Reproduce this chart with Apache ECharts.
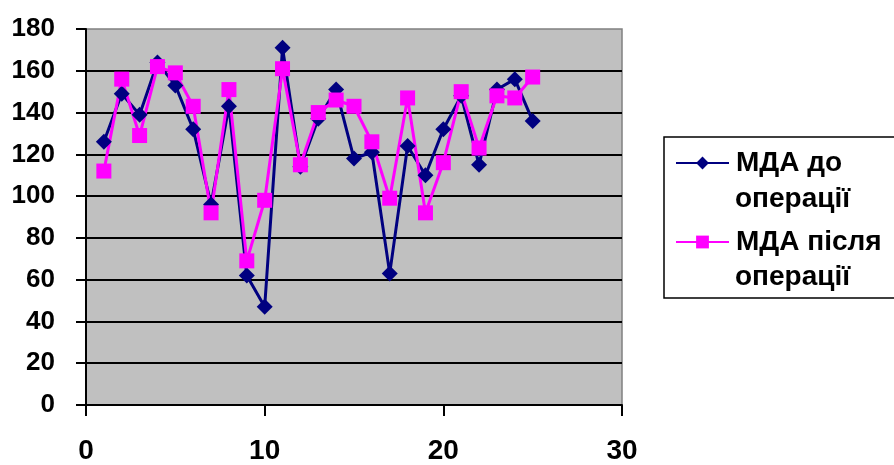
<!DOCTYPE html>
<html>
<head>
<meta charset="utf-8">
<script src="https://cdn.jsdelivr.net/npm/echarts@6/dist/echarts.min.js"></script>
<style>
html,body{margin:0;padding:0;background:#fff;}
#chart{width:894px;height:465px;}
</style>
</head>
<body>
<div id="chart"></div>
<script>
// Data
const patients = [1, 2, 3, 4, 5, 6, 7, 8, 9, 10, 11, 12, 13, 14, 15, 16, 17, 18, 19, 20, 21, 22, 23, 24, 25];
const mdaBefore = [126, 149, 139, 164, 153, 132, 96, 143, 62, 47, 171, 114, 137, 151, 118, 121, 63, 124, 110, 132, 148, 115, 151, 156, 136];
const mdaAfter = [112, 156, 129, 162, 159, 143, 92, 151, 69, 98, 161, 115, 140, 146, 143, 126, 99, 147, 92, 116, 150, 123, 148, 147, 157];
const seriesNames = ['МДА до операції', 'МДА після операції'];
const legendFirstLines = ['МДА до', 'МДА після'];
const legendSecondLines = ['операції', 'операції'];
const xTicks = [0, 10, 20, 30];
const yTicks = [0, 20, 40, 60, 80, 100, 120, 140, 160, 180];

const FONT = 'Liberation Sans, Arial, sans-serif';
const chart = echarts.init(document.getElementById('chart'), null, {renderer: 'canvas'});

function pairs(ys) { return patients.map((x, i) => [x, ys[i]]); }

const option = {
  animation: false,
  backgroundColor: '#ffffff',
  grid: {
    left: 86, right: 272, top: 29, bottom: 57,
    show: true, backgroundColor: '#C0C0C0', borderColor: '#808080', borderWidth: 1.5
  },
  xAxis: {
    type: 'value',
    min: xTicks[0], max: xTicks[xTicks.length - 1], interval: 10,
    axisLine: {show: true, lineStyle: {color: '#000', width: 2}},
    axisTick: {show: true, length: 11, lineStyle: {color: '#000', width: 2}},
    splitLine: {show: false},
    axisLabel: {color: '#000', fontFamily: FONT, fontWeight: 'bold', fontSize: 28, margin: 32}
  },
  yAxis: {
    type: 'value',
    min: yTicks[0], max: yTicks[yTicks.length - 1], interval: 20,
    axisLine: {show: true, lineStyle: {color: '#000', width: 2}},
    axisTick: {show: true, length: 10, lineStyle: {color: '#000', width: 2}},
    splitLine: {show: true, showMaxLine: false, lineStyle: {color: '#000', width: 2}},
    axisLabel: {color: '#000', fontFamily: FONT, fontWeight: 'bold', fontSize: 26, margin: 31}
  },
  legend: {
    orient: 'vertical',
    left: 664, top: 137,
    padding: [8, 40, 38, 11],
    itemGap: 43,
    itemWidth: 53, itemHeight: 16,
    borderColor: '#000', borderWidth: 1.5,
    data: seriesNames,
    formatter: function (name) { return legendFirstLines[seriesNames.indexOf(name)]; },
    textStyle: {color: '#000', fontFamily: FONT, fontWeight: 'bold', fontSize: 28, lineHeight: 36, padding: [0, 0, 0, 2]}
  },
  graphic: [
    {type: 'text', z: 100, x: 735, y: 199, style: {text: legendSecondLines[0], font: 'bold 28px ' + FONT, fill: '#000', verticalAlign: 'middle'}},
    {type: 'text', z: 100, x: 735, y: 277.5, style: {text: legendSecondLines[1], font: 'bold 28px ' + FONT, fill: '#000', verticalAlign: 'middle'}}
  ],
  series: [
    {
      name: seriesNames[0], type: 'line', data: pairs(mdaBefore),
      symbol: 'diamond', symbolSize: 16,
      lineStyle: {color: '#000080', width: 3},
      itemStyle: {color: '#000080'}
    },
    {
      name: seriesNames[1], type: 'line', data: pairs(mdaAfter),
      symbol: 'rect', symbolSize: 15,
      lineStyle: {color: '#FF00FF', width: 3},
      itemStyle: {color: '#FF00FF'}
    }
  ]
};
chart.setOption(option);
</script>
</body>
</html>
